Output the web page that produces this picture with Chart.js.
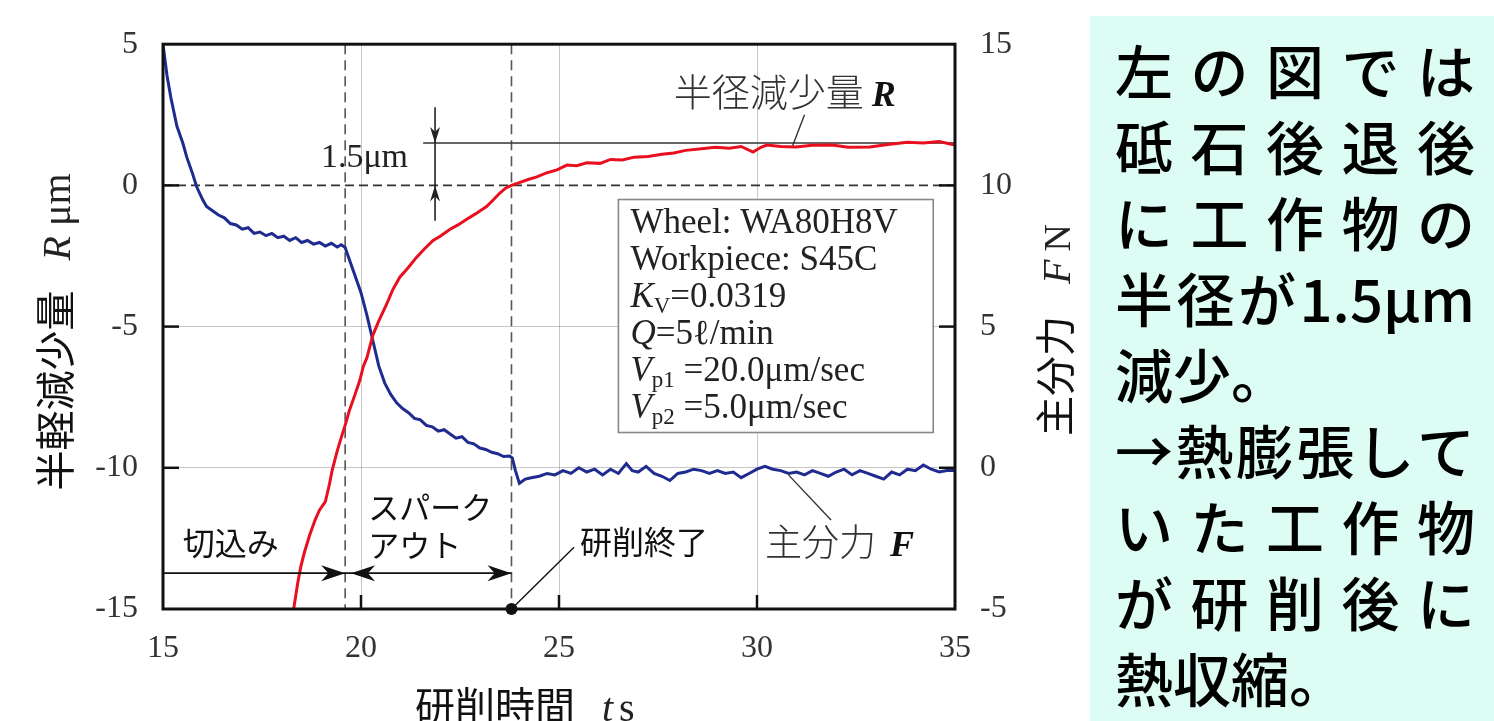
<!DOCTYPE html>
<html>
<head>
<meta charset="utf-8">
<script src="https://cdn.jsdelivr.net/npm/chart.js@4.4.1/dist/chart.umd.min.js"></script>
<style>
  body { margin: 0; background: #fff; width: 1494px; height: 721px; overflow: hidden; position: relative; }
  #wrap { position: absolute; left: 0; top: 0; width: 1090px; height: 721px; }
  #note {
    position: absolute; left: 1090px; top: 16px; width: 404px; height: 705px;
    background: #dcfcf4; box-sizing: border-box; padding: 15px 0 0 25px;
    font-family: "Noto Sans CJK JP", sans-serif; font-size: 58px; font-weight: 500; color: #000;
  }
  .ln { display: flex; justify-content: space-between; width: 360px; height: 76px; line-height: 76px; white-space: nowrap; }
  .ln.l { justify-content: flex-start; }
</style>
</head>
<body>
<div id="wrap"><canvas id="grind" width="1090" height="721"></canvas></div>
<div id="note">
  <div class="ln"><span>左</span><span>の</span><span>図</span><span>で</span><span>は</span></div>
  <div class="ln"><span>砥</span><span>石</span><span>後</span><span>退</span><span>後</span></div>
  <div class="ln"><span>に</span><span>工</span><span>作</span><span>物</span><span>の</span></div>
  <div class="ln"><span>半</span><span>径</span><span>が</span><span>1.5μm</span></div>
  <div class="ln l">減少。</div>
  <div class="ln"><span>→</span><span>熱</span><span>膨</span><span>張</span><span>し</span><span>て</span></div>
  <div class="ln"><span>い</span><span>た</span><span>工</span><span>作</span><span>物</span></div>
  <div class="ln"><span>が</span><span>研</span><span>削</span><span>後</span><span>に</span></div>
  <div class="ln l">熱収縮。</div>
</div>
<script>
// === DATA ===
// radius reduction R (um), left axis
const rTime = [18.3, 18.4, 18.48, 18.57, 18.7, 18.84, 18.95, 19.1, 19.2, 19.27, 19.4, 19.53, 19.62, 19.7,
  19.85, 19.97, 20.06, 20.15, 20.3, 20.45, 20.65, 20.8, 20.98, 21.2, 21.4, 21.6, 21.82, 22.0, 22.25,
  22.45, 22.67, 22.9, 23.17, 23.35, 23.5, 23.65, 23.8, 24.0, 24.2, 24.44, 24.7, 24.95, 25.2, 25.45,
  25.7, 26.04, 26.3, 26.6, 26.9, 27.25, 27.6, 27.9, 28.2, 28.6, 28.95, 29.3, 29.6, 29.9, 30.1, 30.25,
  30.6, 30.98, 31.4, 31.9, 32.3, 32.85, 33.3, 33.8, 34.2, 34.6, 35.0];
const rValue = [-15.0, -14.1, -13.5, -13.0, -12.4, -11.85, -11.5, -11.2, -10.6, -10.1, -9.4, -8.8, -8.4, -8.0,
  -7.4, -6.9, -6.4, -6.1, -5.3, -4.8, -4.2, -3.7, -3.25, -2.9, -2.55, -2.25, -1.95, -1.8, -1.55,
  -1.4, -1.2, -1.0, -0.75, -0.5, -0.28, -0.1, 0.0, 0.1, 0.2, 0.3, 0.45, 0.55, 0.72, 0.7,
  0.8, 0.78, 0.92, 0.9, 1.0, 1.02, 1.1, 1.15, 1.24, 1.3, 1.35, 1.32, 1.38, 1.18, 1.35, 1.43,
  1.38, 1.36, 1.42, 1.43, 1.35, 1.36, 1.45, 1.53, 1.5, 1.55, 1.43];

// normal grinding force F (N), right axis
const fTime = [15.0, 15.1, 15.2, 15.35, 15.5, 15.6, 15.75, 15.85, 16.0, 16.1, 16.25, 16.4, 16.55, 16.7,
  16.85, 17.0, 17.15, 17.3, 17.45, 17.6, 17.75, 17.9, 18.05, 18.2, 18.35, 18.5, 18.65, 18.8, 18.95,
  19.1, 19.25, 19.4, 19.5, 19.6, 19.65, 19.75, 19.85, 20.0, 20.15, 20.3, 20.45, 20.6, 20.75, 20.9,
  21.05, 21.2, 21.35, 21.5, 21.65, 21.8, 21.95, 22.1, 22.25, 22.4, 22.55, 22.7, 22.85, 23.0, 23.15,
  23.3, 23.45, 23.6, 23.75, 23.82, 23.9, 24.0, 24.15, 24.3, 24.5, 24.7, 24.9, 25.1, 25.3, 25.5,
  25.7, 25.9, 26.1, 26.3, 26.5, 26.7, 26.85, 27.0, 27.2, 27.4, 27.6, 27.8, 28.0, 28.2, 28.4, 28.6,
  28.8, 29.0, 29.2, 29.4, 29.6, 29.8, 30.0, 30.2, 30.4, 30.6, 30.8, 31.0, 31.2, 31.4, 31.6, 31.8,
  32.0, 32.2, 32.4, 32.6, 32.8, 33.0, 33.2, 33.4, 33.6, 33.8, 34.0, 34.2, 34.4, 34.6, 34.8, 35.0];
const fValue = [15.0, 13.9, 13.1, 12.1, 11.5, 11.0, 10.4, 9.95, 9.5, 9.25, 9.1, 8.95, 8.85, 8.65,
  8.6, 8.45, 8.5, 8.3, 8.35, 8.22, 8.3, 8.15, 8.2, 8.05, 8.15, 7.98, 8.05, 7.92, 7.98,
  7.85, 7.95, 7.82, 7.9, 7.8, 7.6, 7.2, 6.8, 6.2, 5.4, 4.5, 3.6, 3.0, 2.6, 2.3,
  2.1, 1.95, 1.75, 1.7, 1.5, 1.45, 1.3, 1.35, 1.2, 1.05, 1.1, 0.9, 0.85, 0.7, 0.65,
  0.55, 0.5, 0.4, 0.42, 0.35, -0.1, -0.55, -0.4, -0.35, -0.3, -0.2, -0.25, -0.1, -0.2, 0.0,
  -0.15, -0.05, -0.25, -0.05, -0.2, 0.15, -0.1, -0.15, 0.05, -0.2, -0.3, -0.45, -0.2, -0.15, -0.05, -0.1,
  -0.2, -0.1, -0.2, -0.15, -0.35, -0.2, -0.05, 0.05, -0.05, -0.1, -0.2, -0.15, -0.25, -0.1, -0.2, -0.3,
  -0.15, -0.05, -0.25, -0.1, -0.2, -0.3, -0.4, -0.15, -0.25, -0.05, -0.1, 0.1, -0.05, -0.15, -0.1, -0.1];

const phaseTimes = [19.6, 23.8];     // end of infeed, end of grinding (spark-out)
const gridTimes = [20, 25, 30];
const gridR = [-5, -10];
const tickR = [0, -5, -10];
const tickF = [10, 5, 0];
const legendText = [
  [["Wheel: WA80H8V", "r"]],
  [["Workpiece: S45C", "r"]],
  [["K", "i"], ["V", "s"], ["=0.0319", "r"]],
  [["Q", "i"], ["=5ℓ/min", "r"]],
  [["V", "i"], ["p1", "s"], [" =20.0μm/sec", "r"]],
  [["V", "i"], ["p2", "s"], [" =5.0μm/sec", "r"]],
];

const SERIF = '"Liberation Serif", "DejaVu Serif", serif';
const JP = '"Noto Sans CJK JP", sans-serif';

// draw a row of text pieces with different fonts on one baseline
function drawRuns(ctx, x, y, runs, align) {
  let w = 0;
  runs.forEach((r) => { ctx.font = r.font; w += ctx.measureText(r.text).width + (r.gap || 0); });
  let cx = align === "center" ? x - w / 2 : align === "right" ? x - w : x;
  ctx.textAlign = "left";
  ctx.textBaseline = "alphabetic";
  runs.forEach((r) => {
    ctx.font = r.font;
    ctx.fillStyle = r.color || "#111";
    ctx.fillText(r.text, cx, y + (r.dy || 0));
    cx += ctx.measureText(r.text).width + (r.gap || 0);
  });
}

function line(ctx, x1, y1, x2, y2) {
  ctx.beginPath(); ctx.moveTo(x1, y1); ctx.lineTo(x2, y2); ctx.stroke();
}

// stealth-style arrow head, tip at (x,y), pointing along angle a
function arrowHead(ctx, x, y, a, len, half) {
  ctx.save();
  ctx.translate(x, y); ctx.rotate(a);
  ctx.beginPath();
  ctx.moveTo(0, 0);
  ctx.lineTo(-len, -half);
  ctx.lineTo(-len * 0.7, 0);
  ctx.lineTo(-len, half);
  ctx.closePath();
  ctx.fill();
  ctx.restore();
}

const decor = {
  id: "decor",
  beforeDatasetsDraw(chart) {
    const { ctx, chartArea: a, scales: { x, y } } = chart;
    ctx.save();
    // dashed phase lines and R=0 line
    ctx.strokeStyle = "#555"; ctx.lineWidth = 1.6; ctx.setLineDash([10, 6]);
    phaseTimes.forEach((t) => line(ctx, x.getPixelForValue(t), a.top, x.getPixelForValue(t), a.bottom));
    ctx.strokeStyle = "#333"; ctx.setLineDash([9, 5]);
    line(ctx, a.left, y.getPixelForValue(0), a.right, y.getPixelForValue(0));
    ctx.setLineDash([]);
    // 1.5um level line
    ctx.strokeStyle = "#333"; ctx.lineWidth = 1.6;
    line(ctx, x.getPixelForValue(21.57), y.getPixelForValue(1.5), a.right, y.getPixelForValue(1.5));
    ctx.restore();
  },
  afterDatasetsDraw(chart) {
    const { ctx, chartArea: a, scales: { x, y, y1 } } = chart;
    ctx.save();
    ctx.strokeStyle = "#222"; ctx.fillStyle = "#222"; ctx.lineWidth = 1.6;

    // double arrow marking 1.5um
    const ax = x.getPixelForValue(21.87);
    line(ctx, ax, y.getPixelForValue(2.77), ax, y.getPixelForValue(-1.25));
    arrowHead(ctx, ax, y.getPixelForValue(1.5), Math.PI / 2, 16, 5);
    arrowHead(ctx, ax, y.getPixelForValue(0), -Math.PI / 2, 16, 5);
    drawRuns(ctx, ax - 27, y.getPixelForValue(1.5) + 24, [{ text: "1.5μm", font: "34px " + SERIF, color: "#222" }], "right");

    // curve labels
    drawRuns(ctx, x.getPixelForValue(27.9), 106, [
      { text: "半径減少量", font: "300 38px " + JP, color: "#333", gap: 8 },
      { text: "R", font: "italic bold 36px " + SERIF, color: "#111" },
    ], "left");
    ctx.strokeStyle = "#333"; ctx.lineWidth = 1.4;
    line(ctx, x.getPixelForValue(31.2), y.getPixelForValue(2.5), x.getPixelForValue(30.9), y.getPixelForValue(1.4));
    drawRuns(ctx, x.getPixelForValue(30.2), 556, [
      { text: "主分力", font: "300 37px " + JP, color: "#333", gap: 14 },
      { text: "F", font: "italic bold 36px " + SERIF, color: "#111" },
    ], "left");
    line(ctx, x.getPixelForValue(30.8), y1.getPixelForValue(-0.26), x.getPixelForValue(31.87), y1.getPixelForValue(-1.85));

    // condition box
    const bx1 = x.getPixelForValue(26.5), bx2 = x.getPixelForValue(34.45);
    const by1 = y.getPixelForValue(-0.5), by2 = y.getPixelForValue(-8.75);
    ctx.fillStyle = "#fff"; ctx.strokeStyle = "#888"; ctx.lineWidth = 1.6;
    ctx.fillRect(bx1, by1, bx2 - bx1, by2 - by1);
    ctx.strokeRect(bx1, by1, bx2 - bx1, by2 - by1);
    legendText.forEach((row, i) => {
      const runs = row.map(([t, k]) => ({
        text: t,
        font: k === "i" ? "italic 35px " + SERIF : k === "s" ? "23px " + SERIF : "35px " + SERIF,
        dy: k === "s" ? 6 : 0,
        color: "#222",
      }));
      drawRuns(ctx, bx1 + 12, by1 + 33 + i * 37, runs, "left");
    });

    // phase arrows along the bottom
    const yb = y.getPixelForValue(-13.73);
    const p1 = x.getPixelForValue(phaseTimes[0]), p2 = x.getPixelForValue(phaseTimes[1]);
    ctx.strokeStyle = "#111"; ctx.fillStyle = "#111"; ctx.lineWidth = 1.6;
    line(ctx, a.left, yb, p2, yb);
    arrowHead(ctx, p1, yb, 0, 24, 8);
    arrowHead(ctx, x.getPixelForValue(19.75), yb, Math.PI, 24, 8);
    arrowHead(ctx, p2, yb, 0, 24, 8);
    drawRuns(ctx, x.getPixelForValue(15.5), 555, [{ text: "切込み", font: "32px " + JP, color: "#111" }], "left");
    drawRuns(ctx, x.getPixelForValue(20.18), 519, [{ text: "スパーク", font: "31px " + JP, color: "#111" }], "left");
    drawRuns(ctx, x.getPixelForValue(20.18), 557, [{ text: "アウト", font: "31px " + JP, color: "#111" }], "left");

    // end of grinding marker
    const dy = y.getPixelForValue(-15);
    ctx.lineWidth = 1.4;
    line(ctx, p2, dy, x.getPixelForValue(25.38), y.getPixelForValue(-12.81));
    ctx.beginPath(); ctx.arc(p2, dy, 6, 0, Math.PI * 2); ctx.fill();
    drawRuns(ctx, x.getPixelForValue(25.53), 554, [{ text: "研削終了", font: "32px " + JP, color: "#111" }], "left");
    ctx.restore();
  },
  afterDraw(chart) {
    const { ctx, chartArea: a, scales: { x, y, y1 } } = chart;
    ctx.save();
    // frame and inward ticks
    ctx.strokeStyle = "#111"; ctx.lineWidth = 3;
    ctx.strokeRect(a.left, a.top, a.right - a.left, a.bottom - a.top);
    ctx.lineWidth = 2.5;
    tickR.forEach((v) => line(ctx, a.left, y.getPixelForValue(v), a.left + 16, y.getPixelForValue(v)));
    tickF.forEach((v) => line(ctx, a.right - 16, y1.getPixelForValue(v), a.right, y1.getPixelForValue(v)));
    gridTimes.forEach((t) => line(ctx, x.getPixelForValue(t), a.bottom, x.getPixelForValue(t), a.bottom - 14));

    // axis titles
    ctx.save();
    ctx.translate(55, 332); ctx.rotate(-Math.PI / 2);
    drawRuns(ctx, 0, 15, [
      { text: "半軽減少量", font: "40px " + JP, color: "#111", gap: 30 },
      { text: "R", font: "italic 40px " + SERIF, color: "#222", gap: 10 },
      { text: "μm", font: "40px " + SERIF, color: "#222" },
    ], "center");
    ctx.restore();
    ctx.save();
    ctx.translate(1055, 330); ctx.rotate(-Math.PI / 2);
    drawRuns(ctx, 0, 15, [
      { text: "主分力", font: "40px " + JP, color: "#111", gap: 32 },
      { text: "F", font: "italic 40px " + SERIF, color: "#222", gap: 8 },
      { text: "N", font: "38px " + SERIF, color: "#222" },
    ], "center");
    ctx.restore();
    drawRuns(ctx, 415, 721, [
      { text: "研削時間", font: "40px " + JP, color: "#111", gap: 27 },
      { text: "t", font: "italic 40px " + SERIF, color: "#222", gap: 6 },
      { text: "s", font: "40px " + SERIF, color: "#222" },
    ], "left");
    ctx.restore();
  },
};

const tickFont = { family: SERIF, size: 32 };

new Chart(document.getElementById("grind"), {
  type: "line",
  data: {
    datasets: [
      {
        label: "半径減少量 R",
        data: rTime.map((t, i) => ({ x: t, y: rValue[i] })),
        yAxisID: "y",
        borderColor: "#e8101e",
        borderWidth: 3,
        pointRadius: 0,
        tension: 0,
      },
      {
        label: "主分力 F",
        data: fTime.map((t, i) => ({ x: t, y: fValue[i] })),
        yAxisID: "y1",
        borderColor: "#1f2b8f",
        borderWidth: 3,
        pointRadius: 0,
        tension: 0,
      },
    ],
  },
  options: {
    responsive: false,
    animation: false,
    devicePixelRatio: 1,
    layout: { padding: { top: 44, left: 0, right: 0, bottom: 0 } },
    plugins: { legend: { display: false }, tooltip: { enabled: false } },
    scales: {
      x: {
        type: "linear",
        min: 15,
        max: 35,
        ticks: { stepSize: 5, font: tickFont, color: "#333", padding: 20, maxRotation: 0 },
        grid: {
          drawTicks: false,
          lineWidth: 1,
          color: (c) => (gridTimes.includes(c.tick.value) ? "rgba(0,0,0,0.22)" : "rgba(0,0,0,0)"),
        },
        border: { display: false },
        afterFit: (s) => { s.height = 112; },
      },
      y: {
        position: "left",
        min: -15,
        max: 5,
        ticks: { stepSize: 5, font: tickFont, color: "#333", padding: 25 },
        grid: {
          drawTicks: false,
          lineWidth: 1,
          color: (c) => (gridR.includes(c.tick.value) ? "rgba(0,0,0,0.22)" : "rgba(0,0,0,0)"),
        },
        border: { display: false },
        afterFit: (s) => { s.width = 163; },
      },
      y1: {
        position: "right",
        min: -5,
        max: 15,
        ticks: { stepSize: 5, font: tickFont, color: "#333", padding: 25 },
        grid: { display: false, drawTicks: false },
        border: { display: false },
        afterFit: (s) => { s.width = 135; },
      },
    },
  },
  plugins: [decor],
});
</script>
</body>
</html>
